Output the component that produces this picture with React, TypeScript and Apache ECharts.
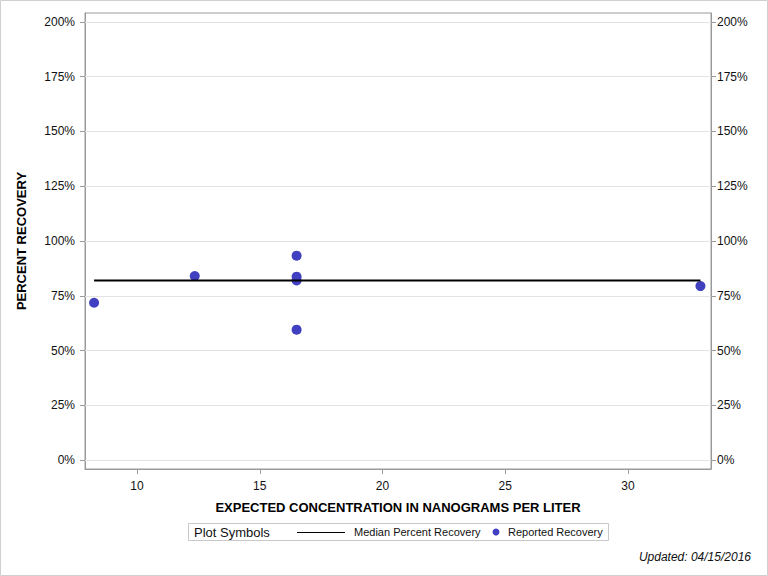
import React, { useEffect, useRef } from "react";
import * as echarts from "echarts";

const pointX = [8.25, 12.35, 16.5, 16.5, 16.5, 16.5, 32.95];
const pointY = [71.8, 84.0, 93.3, 83.7, 82.0, 59.5, 79.4];
const medianX = [8.25, 32.95];
const medianValue = 82.0;
const xTicks = [10, 15, 20, 25, 30];
const yTicks = [0, 25, 50, 75, 100, 125, 150, 175, 200];

const X_MIN = 7.88;
const X_MAX = 33.38;
const Y_MIN = -4.1;
const Y_MAX = 204.1;

const FONT = "'Liberation Sans', Arial, sans-serif";

export default function App() {
  const ref = useRef<HTMLDivElement>(null);
  useEffect(() => {
    document.body.style.margin = "0";
    const chart = echarts.init(ref.current!, null, { renderer: "svg" });
    const yAxisCommon = {
      type: "value",
      min: Y_MIN,
      max: Y_MAX,
      axisLine: { show: true, lineStyle: { color: "#9a9a9a" } },
      axisTick: { show: true, length: 5, customValues: yTicks, lineStyle: { color: "#9a9a9a" } },
      splitLine: { show: false },
    };
    chart.setOption({
      animation: false,
      textStyle: { fontFamily: FONT },
      grid: { left: 85, right: 57, top: 13, bottom: 107, show: true, borderColor: "#9a9a9a", borderWidth: 1 },
      xAxis: {
        type: "value",
        min: X_MIN,
        max: X_MAX,
        name: "EXPECTED CONCENTRATION IN NANOGRAMS PER LITER",
        nameLocation: "middle",
        nameGap: 32,
        nameTextStyle: { fontFamily: FONT, fontWeight: "bold", fontSize: 13, color: "#000" },
        axisLine: { show: true, onZero: false, lineStyle: { color: "#9a9a9a" } },
        axisTick: { show: true, length: 5, customValues: xTicks, lineStyle: { color: "#9a9a9a" } },
        axisLabel: { customValues: xTicks, fontSize: 12, color: "#111", margin: 11, fontFamily: FONT },
        splitLine: { show: false },
      },
      yAxis: [
        {
          ...yAxisCommon,
          position: "left",
          name: "PERCENT RECOVERY",
          nameLocation: "middle",
          nameGap: 57,
          nameRotate: 90,
          nameTextStyle: { fontFamily: FONT, fontWeight: "bold", fontSize: 13, color: "#000" },
          axisLabel: { customValues: yTicks, formatter: "{value}%", fontSize: 12, color: "#111", margin: 10, fontFamily: FONT },
        },
        {
          ...yAxisCommon,
          position: "right",
          axisLabel: { customValues: yTicks, formatter: "{value}%", fontSize: 12, color: "#111", margin: 6, fontFamily: FONT },
        },
      ],
      series: [
        {
          name: "Gridlines",
          type: "line",
          data: [],
          silent: true,
          markLine: {
            silent: true,
            symbol: ["none", "none"],
            label: { show: false },
            lineStyle: { color: "#e3e3e3", type: "solid", width: 1 },
            data: yTicks.map((v) => ({ yAxis: v })),
          },
        },
        {
          name: "Median Percent Recovery",
          type: "line",
          data: medianX.map((x) => [x, medianValue]),
          showSymbol: false,
          lineStyle: { color: "#000", width: 2 },
          itemStyle: { color: "#000" },
        },
        {
          name: "Reported Recovery",
          type: "scatter",
          data: pointX.map((x, i) => [x, pointY[i]]),
          symbolSize: 10,
          itemStyle: { color: "#4040C0", opacity: 1 },
        },
      ],
      graphic: [
        { type: "rect", shape: { x: 0.5, y: 0.5, width: 767, height: 575 }, style: { fill: "none", stroke: "#d0d0d0", lineWidth: 1 }, z: -1 },
        { type: "rect", shape: { x: 188.5, y: 523.5, width: 420, height: 17 }, style: { fill: "#fff", stroke: "#c8c8c8", lineWidth: 1 } },
        { type: "text", x: 194, y: 532, style: { text: "Plot Symbols", fontSize: 13, fontFamily: FONT, fill: "#111", verticalAlign: "middle" } },
        { type: "line", shape: { x1: 297, y1: 532.5, x2: 345, y2: 532.5 }, style: { stroke: "#000", lineWidth: 1 } },
        { type: "text", x: 354, y: 532, style: { text: "Median Percent Recovery", fontSize: 11, fontFamily: FONT, fill: "#111", verticalAlign: "middle" } },
        { type: "circle", shape: { cx: 496, cy: 532, r: 3.5 }, style: { fill: "#4040C0" } },
        { type: "text", x: 508, y: 532, style: { text: "Reported Recovery", fontSize: 11, fontFamily: FONT, fill: "#111", verticalAlign: "middle" } },
        { type: "text", x: 751, y: 557, style: { text: "Updated: 04/15/2016", fontSize: 12, fontStyle: "italic", fontFamily: FONT, fill: "#111", align: "right", verticalAlign: "middle" } },
      ],
    });
    return () => chart.dispose();
  }, []);
  return <div ref={ref} style={{ width: 768, height: 576 }} />;
}
